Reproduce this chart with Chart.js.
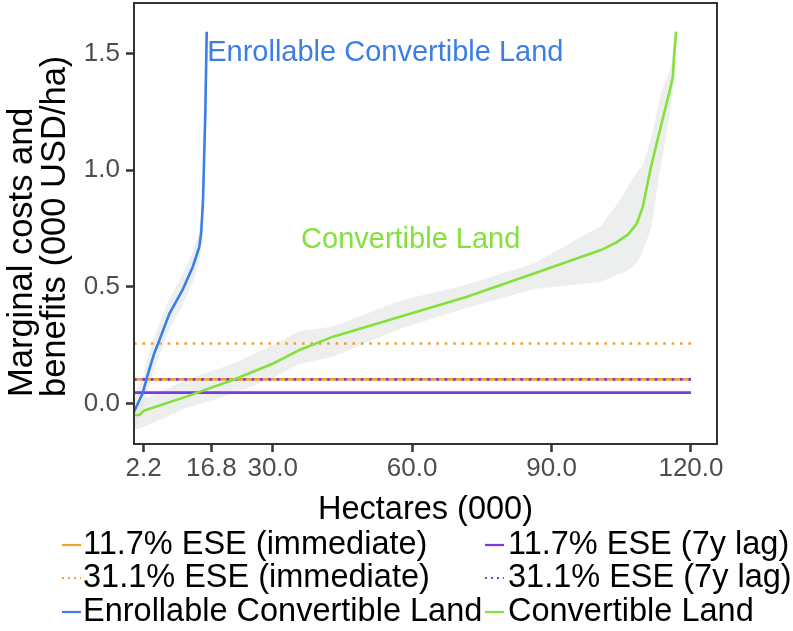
<!DOCTYPE html>
<html><head><meta charset="utf-8">
<script src="https://cdn.jsdelivr.net/npm/chart.js@4.4.1/dist/chart.umd.min.js"></script>
<style>html,body{margin:0;padding:0;background:#fff;}#wrap{width:793px;height:631px;position:relative;}</style>
</head><body><div id="wrap"><canvas id="c" width="793" height="631"></canvas></div>
<script>
const FONT = '"Liberation Sans", Arial, Helvetica, sans-serif';

// ---------- data ----------
const xTickValues = [2.2, 16.8, 30, 60, 90, 120];
const yTickValues = [0, 0.5, 1.0, 1.5];
const xRange = [0.15, 125.6];
const yRange = [-0.174, 1.716];
const xTitle = 'Hectares (000)';
const yTitleLines = ['Marginal costs and', 'benefits (000 USD/ha)'];

const hlineX = [0.15, 120];
const eseLabels = ['11.7% ESE (immediate)', '31.1% ESE (immediate)', '11.7% ESE (7y lag)', '31.1% ESE (7y lag)'];
const eseValues = [0.103, 0.257, 0.046, 0.103];

const enrollX  = [0.15, 2.0, 3.2, 4.5, 5.6, 7.8, 10.6, 12.8, 14.2, 14.6, 15.0, 15.5, 15.8];
const enrollY  = [-0.036, 0.043, 0.13, 0.214, 0.27, 0.386, 0.486, 0.586, 0.671, 0.729, 0.871, 1.25, 1.593];
const enrollBandX  = [0.15, 2.0, 3.2, 4.5, 5.6, 7.8, 10.6, 12.8, 14.2, 14.6, 15.0];
const enrollBandLo = [-0.11, -0.03, 0.06, 0.15, 0.20, 0.32, 0.42, 0.52, 0.60, 0.68, 0.84];
const enrollBandHi = [0.03, 0.11, 0.20, 0.28, 0.34, 0.45, 0.55, 0.65, 0.74, 0.80, 0.90];

const convX  = [0.15, 1.3, 2.4, 11.4, 21.4, 30.1, 35.8, 43.0, 57.4, 71.8, 86.2, 100.6, 104.0, 106.5, 108.3, 109.6, 111.4, 113.5, 115.3, 116.1, 116.4, 116.8];
const convY  = [-0.05, -0.05, -0.03, 0.029, 0.10, 0.171, 0.229, 0.286, 0.371, 0.457, 0.557, 0.657, 0.69, 0.725, 0.77, 0.84, 1.014, 1.186, 1.329, 1.40, 1.50, 1.593];
const convLo = [-0.11, -0.11, -0.10, -0.02, 0.04, 0.11, 0.17, 0.20, 0.32, 0.41, 0.49, 0.52, 0.55, 0.57, 0.60, 0.65, 0.75, 1.02, 1.22, 1.33, 1.45, 1.58];
const convHi = [-0.01, 0.00, 0.02, 0.10, 0.17, 0.25, 0.31, 0.33, 0.44, 0.51, 0.60, 0.76, 0.85, 0.93, 0.99, 1.02, 1.13, 1.33, 1.42, 1.48, 1.56, 1.61];

const curveLabels = ['Enrollable Convertible Land', 'Convertible Land'];
const annotationX = [15.9, 36.1];
const annotationY = [1.5, 0.7];

// ---------- styles ----------
const ORANGE = '#F0A030', PURPLE = '#7A38E6', BLUE = '#3A7EE6', GREEN = '#84E03A', BAND = 'rgba(225,228,228,0.6)';
const LW = 2.6;

const pts = (xs, ys) => xs.map((x, i) => ({x, y: ys[i]}));
const band = (xs, lo, hi) => pts(xs, hi).concat(pts(xs, lo).reverse());
const hline = v => hlineX.map(x => ({x, y: v}));

const datasets = [
  {label: 'band1', data: band(convX, convLo, convHi), fill: 'shape', backgroundColor: BAND, borderWidth: 0, order: 20},
  {label: 'band2', data: band(enrollBandX, enrollBandLo, enrollBandHi), fill: 'shape', backgroundColor: BAND, borderWidth: 0, order: 19},
  {label: eseLabels[0], data: hline(eseValues[0]), borderColor: ORANGE, borderWidth: LW, order: 6, legendIndex: 0},
  {label: eseLabels[1], data: hline(eseValues[1]), borderColor: ORANGE, borderWidth: LW, borderDash: [2.6, 5.8], order: 5, legendIndex: 2},
  {label: eseLabels[2], data: hline(eseValues[2]), borderColor: PURPLE, borderWidth: LW, order: 4, legendIndex: 1},
  {label: eseLabels[3], data: hline(eseValues[3]), borderColor: PURPLE, borderWidth: LW, borderDash: [2.6, 5.8], order: 3, legendIndex: 3},
  {label: curveLabels[0], data: pts(enrollX, enrollY), borderColor: BLUE, borderWidth: LW, order: 1, legendIndex: 4, annot: 0},
  {label: curveLabels[1], data: pts(convX, convY), borderColor: GREEN, borderWidth: LW, order: 0, legendIndex: 5, annot: 1}
];
datasets.forEach(d => { d.showLine = true; d.pointRadius = 0; d.pointHoverRadius = 0; d.tension = 0; if (!d.fill) d.fill = false; });

const panelBorder = {
  id: 'panelBorder',
  afterDatasetsDraw(chart) {
    const {ctx, chartArea: a} = chart;
    ctx.save(); ctx.strokeStyle = '#333'; ctx.lineWidth = 2;
    ctx.strokeRect(a.left, a.top, a.right - a.left, a.bottom - a.top);
    ctx.restore();
  }
};
const annotations = {
  id: 'annotations',
  afterDatasetsDraw(chart) {
    const {ctx, scales: {x, y}} = chart;
    ctx.save(); ctx.font = '29px ' + FONT; ctx.textBaseline = 'middle'; ctx.textAlign = 'left';
    chart.data.datasets.forEach(d => {
      if (d.annot === undefined) return;
      ctx.fillStyle = d.borderColor;
      ctx.fillText(d.label, x.getPixelForValue(annotationX[d.annot]), y.getPixelForValue(annotationY[d.annot]));
    });
    ctx.restore();
  }
};
const yTitle = {
  id: 'yTitle',
  afterDraw(chart) {
    const {ctx} = chart;
    const baselines = [32, 65];
    ctx.save(); ctx.font = '34.5px ' + FONT; ctx.fillStyle = '#000'; ctx.textAlign = 'left'; ctx.textBaseline = 'alphabetic';
    yTitleLines.forEach((t, i) => {
      ctx.save(); ctx.translate(baselines[i], 397); ctx.rotate(-Math.PI / 2); ctx.fillText(t, 0, 0); ctx.restore();
    });
    ctx.restore();
  }
};
const legendGrid = {
  id: 'legendGrid',
  afterDraw(chart) {
    const {ctx} = chart;
    const rowsY = [545, 578, 612], keyX = [62, 485], textX = [83, 508], keyLen = 19;
    ctx.save(); ctx.font = '32.5px ' + FONT; ctx.textBaseline = 'middle'; ctx.textAlign = 'left';
    chart.data.datasets.forEach(d => {
      if (d.legendIndex === undefined) return;
      const r = Math.floor(d.legendIndex / 2), c = d.legendIndex % 2;
      const yy = rowsY[r];
      ctx.strokeStyle = d.borderColor; ctx.lineWidth = 2.2; ctx.setLineDash(d.borderDash ? [2, 4] : []);
      ctx.beginPath(); ctx.moveTo(keyX[c], yy); ctx.lineTo(keyX[c] + keyLen, yy); ctx.stroke();
      ctx.setLineDash([]);
      ctx.fillStyle = '#000'; ctx.fillText(d.label, textX[c], yy);
    });
    ctx.restore();
  }
};

new Chart(document.getElementById('c'), {
  type: 'scatter',
  data: {datasets},
  options: {
    responsive: false, animation: false, devicePixelRatio: 1,
    layout: {padding: {left: 0, right: 76, top: 3, bottom: 95}},
    plugins: {legend: {display: false}, tooltip: {enabled: false}},
    scales: {
      x: {
        type: 'linear', min: xRange[0], max: xRange[1],
        afterBuildTicks: s => { s.ticks = xTickValues.map(v => ({value: v})); },
        afterFit: s => { s.height = 92; s.paddingLeft = 0; s.paddingRight = 0; },
        grid: {drawOnChartArea: false, drawTicks: true, tickLength: 8, tickColor: '#333', tickWidth: 2.5},
        border: {display: false},
        ticks: {font: {family: FONT, size: 26}, color: '#4d4d4d', padding: 1, maxRotation: 0, autoSkip: false,
                callback: v => Number(v).toFixed(1)},
        title: {display: true, text: xTitle, color: '#000', font: {family: FONT, size: 32.5}, padding: {top: 0, bottom: 6}}
      },
      y: {
        type: 'linear', min: yRange[0], max: yRange[1],
        afterBuildTicks: s => { s.ticks = yTickValues.map(v => ({value: v})); },
        afterFit: s => { s.width = 134; s.paddingTop = 0; s.paddingBottom = 0; },
        grid: {drawOnChartArea: false, drawTicks: true, tickLength: 8, tickColor: '#333', tickWidth: 2.5},
        border: {display: false},
        ticks: {font: {family: FONT, size: 26}, color: '#4d4d4d', padding: 6,
                callback: v => Number(v).toFixed(1)},
        title: {display: false}
      }
    }
  },
  plugins: [panelBorder, annotations, yTitle, legendGrid]
});
</script></body></html>
